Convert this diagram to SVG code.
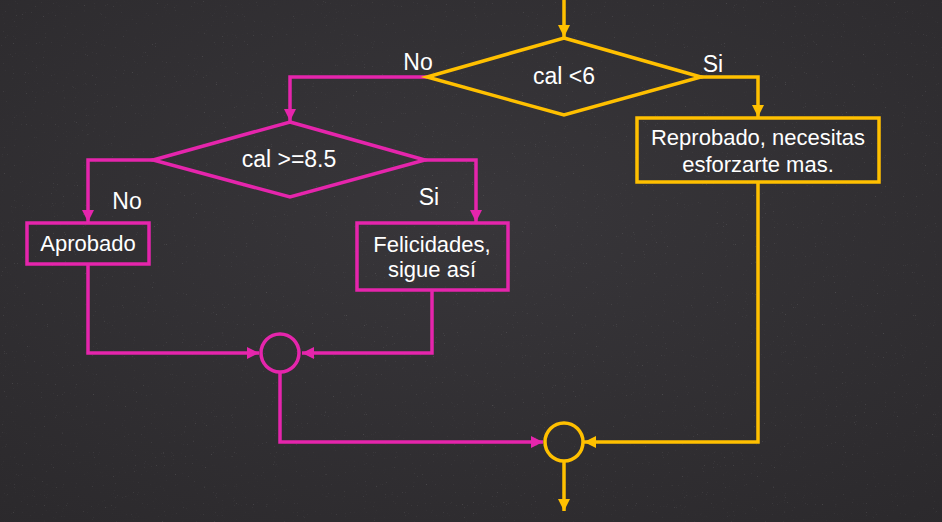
<svg xmlns="http://www.w3.org/2000/svg" width="942" height="522" viewBox="0 0 942 522">
<defs>
<style>
.y{stroke:#FFC000;stroke-width:3.5;fill:none}
.m{stroke:#E525AC;stroke-width:3.5;fill:none}
.t{fill:#ffffff;font-family:"Liberation Sans",Arial,sans-serif;font-size:22px;text-anchor:middle}
.d{font-size:23px}
</style>
<marker id="ay" viewBox="0 0 10 10" refX="10" refY="5" markerWidth="12" markerHeight="12" markerUnits="userSpaceOnUse" orient="auto"><path d="M0,0 L10,5 L0,10 z" fill="#FFC000"/></marker>
<marker id="am" viewBox="0 0 10 10" refX="10" refY="5" markerWidth="12" markerHeight="12" markerUnits="userSpaceOnUse" orient="auto"><path d="M0,0 L10,5 L0,10 z" fill="#E525AC"/></marker>
<filter id="chalk" x="0" y="0" width="100%" height="100%">
<feTurbulence type="fractalNoise" baseFrequency="0.9" numOctaves="2" seed="3" result="n"/>
<feColorMatrix in="n" type="matrix" values="0 0 0 0 1  0 0 0 0 1  0 0 0 0 1  0 0 0 3 -2.2"/>
</filter>
<radialGradient id="bg" cx="0.5" cy="0.4" r="0.8">
<stop offset="0" stop-color="#38363a"/>
<stop offset="1" stop-color="#2b292c"/>
</radialGradient>
</defs>
<rect width="942" height="522" fill="url(#bg)"/>
<rect width="942" height="522" filter="url(#chalk)" opacity="0.22"/>

<g id="connectors">
<path class="y" d="M564,0 V37" marker-end="url(#ay)"/>
<path class="y" d="M701,77 H758 V117" marker-end="url(#ay)"/>
<path class="y" d="M758,182 V442 H584" marker-end="url(#ay)"/>
<path class="y" d="M564,461 V511" marker-end="url(#ay)"/>
<path class="m" d="M427,77 H290 V121" marker-end="url(#am)"/>
<path class="m" d="M153,160 H88 V222" marker-end="url(#am)"/>
<path class="m" d="M425,160 H476 V222" marker-end="url(#am)"/>
<path class="m" d="M88,264 V353 H259" marker-end="url(#am)"/>
<path class="m" d="M432,290 V353 H302" marker-end="url(#am)"/>
<path class="m" d="M280,372 V442 H543" marker-end="url(#am)"/>
</g>

<g id="labels">
<text class="t d" x="418" y="70">No</text>
<text class="t d" x="713" y="72">Si</text>
<text class="t d" x="127" y="209">No</text>
<text class="t d" x="429" y="205">Si</text>
</g>

<g id="dec1">
<polygon class="y" points="564,38 701,77 564,115 427,77"/>
<text class="t d" x="564" y="84">cal &lt;6</text>
</g>

<g id="dec2">
<polygon class="m" points="290,122 425,160 290,197 153,160"/>
<text class="t d" x="289" y="167">cal &gt;=8.5</text>
</g>

<g id="reprobado">
<rect class="y" x="637" y="118" width="242" height="64"/>
<text class="t" x="758" y="145">Reprobado, necesitas</text>
<text class="t" x="758" y="172">esforzarte mas.</text>
</g>

<g id="aprobado">
<rect class="m" x="27" y="223" width="122" height="41"/>
<text class="t" x="88" y="251">Aprobado</text>
</g>

<g id="felicidades">
<rect class="m" x="357" y="223" width="151" height="67"/>
<text class="t" x="432" y="252">Felicidades,</text>
<text class="t" x="432" y="277">sigue así</text>
</g>

<g id="merge1">
<circle class="m" cx="280" cy="353" r="19"/>
</g>

<g id="merge2">
<circle class="y" cx="564" cy="442" r="19"/>
</g>
</svg>
